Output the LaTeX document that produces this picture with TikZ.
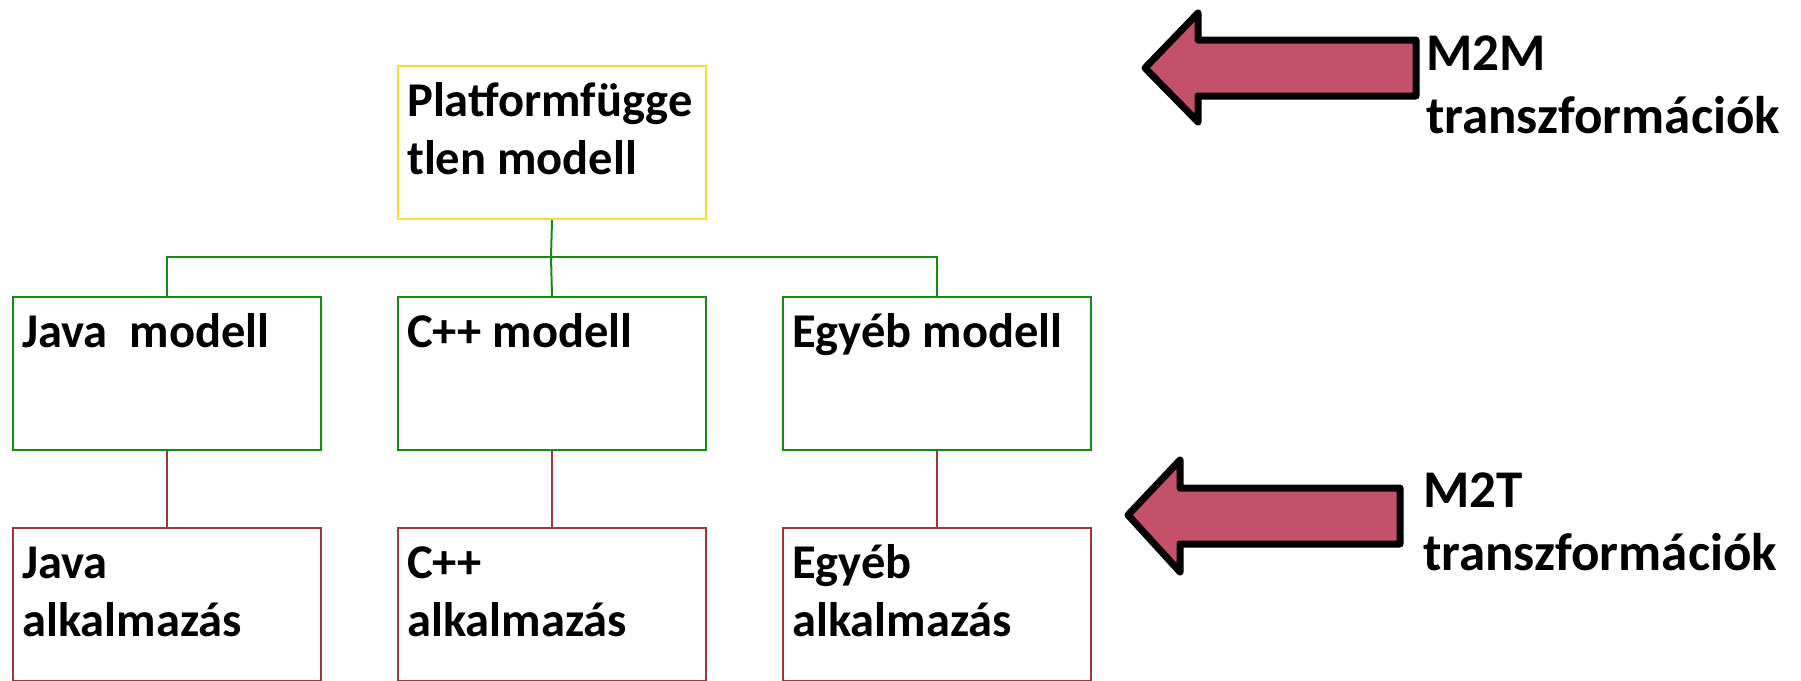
\documentclass[tikz,border=0pt]{standalone}
\usepackage{fontspec}
\setmainfont{Carlito}
\usetikzlibrary{shadows}

\definecolor{pimyellow}{RGB}{250,222,50}
\definecolor{psmgreen}{RGB}{22,138,22}
\definecolor{appred}{RGB}{156,58,58}
\definecolor{trafofill}{RGB}{196,81,106}

\begin{document}
\begin{tikzpicture}[x=1pt,y=-1pt,
  box/.style={draw, line width=2pt, minimum width=308pt, minimum height=153pt,
    inner sep=0pt, anchor=north west},
  boxtext/.style={anchor=north west, inner sep=0pt, align=left, xshift=10pt, yshift=-11pt,
    font=\fontsize{48.5}{58}\selectfont\bfseries},
  tree/.style={draw=psmgreen, line width=2pt},
  gen/.style={draw=appred, line width=2pt},
  trafo/.style={draw=black, line width=7pt, line join=round, fill=trafofill,
    drop shadow={opacity=0.25, shadow xshift=3pt, shadow yshift=-3pt}},
  trafotext/.style={anchor=north west, inner sep=0pt, align=left,
    font=\fontsize{53}{63.5}\selectfont\bfseries}]
\useasboundingbox (0,0) rectangle (1801,680);

% platform independent model and the platform models
\node[box, draw=pimyellow] (pim) at (397,65) {};
\node[box, draw=psmgreen] (java) at (12,296) {};
\node[box, draw=psmgreen] (cpp) at (397,296) {};
\node[box, draw=psmgreen] (egyeb) at (782,296) {};

% generated applications
\node[box, draw=appred] (javaapp) at (12,527) {};
\node[box, draw=appred] (cppapp) at (397,527) {};
\node[box, draw=appred] (egyebapp) at (782,527) {};

\node[boxtext] (pimtext) at (pim.north west) {\rule{0pt}{40pt}Platformfügge\\tlen modell};
\node[boxtext] (javatext) at (java.north west) {\rule{0pt}{40pt}Java~~modell};
\node[boxtext] (cpptext) at (cpp.north west) {\rule{0pt}{40pt}C++ modell};
\node[boxtext] (egyebtext) at (egyeb.north west) {\rule{0pt}{40pt}Egyéb modell};
\node[boxtext] (javaapptext) at (javaapp.north west) {\rule{0pt}{40pt}Java\\alkalmazás};
\node[boxtext] (cppapptext) at (cppapp.north west) {\rule{0pt}{40pt}C++\\alkalmazás};
\node[boxtext] (egyebapptext) at (egyebapp.north west) {\rule{0pt}{40pt}Egyéb\\alkalmazás};

\coordinate (bus) at (551,257);
\draw[tree] (pim.south) -- (bus);
\draw[tree] (java.north) |- (bus) -| (egyeb.north);
\draw[tree] (bus) -- (cpp.north);

\draw[gen] (java.south) -- (javaapp.north);
\draw[gen] (cpp.south) -- (cppapp.north);
\draw[gen] (egyeb.south) -- (egyebapp.north);

% transformation arrows
\draw[trafo] (1145,68) -- (1198,13) -- (1198,40) -- (1416,40) -- (1416,96)
  -- (1198,96) -- (1198,122) -- cycle;
\draw[trafo] (1128,515) -- (1180,460) -- (1180,488) -- (1400,488) -- (1400,544)
  -- (1180,544) -- (1180,572) -- cycle;

\node[trafotext] (m2m) at (1426,25) {\rule{0pt}{45pt}M2M\\transzformációk};
\node[trafotext] (m2t) at (1423,462) {\rule{0pt}{45pt}M2T\\transzformációk};
\end{tikzpicture}
\end{document}
